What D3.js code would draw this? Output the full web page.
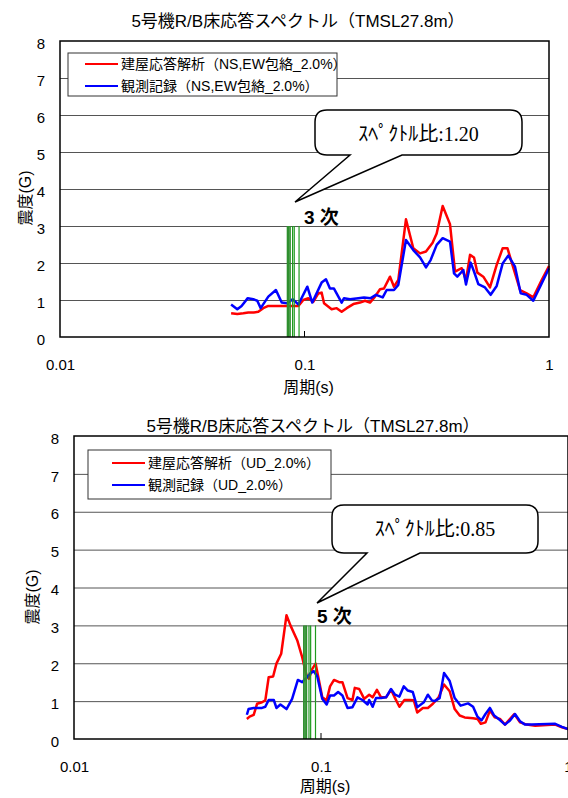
<!DOCTYPE html>
<html>
<head>
<meta charset="utf-8">
<script src="https://cdn.jsdelivr.net/npm/d3@7"></script>
<style>
body { margin: 0; background: #fff; }
svg text { font-family: "Liberation Sans", "Noto Sans CJK JP", sans-serif; fill: #000; }
</style>
</head>
<body>
<svg id="chart" width="568" height="798"></svg>
<script>
// ---- data ----
const chartTitle = '5号機R/B床応答スペクトル（TMSL27.8m）'
const xLabel = '周期(s)'
const yLabel = '震度(G)'
const xTicks = [0.01, 0.1, 1]
const yTicks = [0, 1, 2, 3, 4, 5, 6, 7, 8]

// top panel: NS,EW envelope  [period s, acceleration G]
const topAnalysis = [
  [0.0501,0.64],[0.0531,0.62],[0.0562,0.64],[0.0589,0.66],[0.0618,0.66],[0.0647,0.68],[0.0678,0.78],
  [0.0711,0.84],[0.0770,0.84],[0.0845,0.84],[0.0914,0.84],[0.0944,0.84],[0.0989,1.00],[0.1037,1.05],
  [0.1086,0.95],[0.1139,1.18],[0.1175,1.20],[0.1202,0.91],[0.1291,0.75],[0.1354,0.78],[0.1419,0.68],
  [0.1488,0.78],[0.1584,0.89],[0.1687,0.93],[0.1768,0.98],[0.1853,0.93],[0.1942,1.09],[0.2036,1.29],
  [0.2114,1.31],[0.2238,1.63],[0.2323,1.36],[0.2419,1.54],[0.2600,3.18],[0.2786,2.40],[0.2969,2.26],
  [0.3140,2.31],[0.3342,2.55],[0.3472,2.80],[0.3674,3.54],[0.3936,3.05],[0.4127,1.77],[0.4395,1.86],
  [0.4577,1.54],[0.4753,2.22],[0.4935,2.15],[0.5093,1.74],[0.5387,1.63],[0.5736,1.34],[0.6110,1.95],
  [0.6465,2.40],[0.6761,2.40],[0.7611,1.27],[0.8102,1.18],[0.8625,1.07],[0.9334,1.54],[1.0,1.92]
]
const topRecord = [
  [0.0501,0.88],[0.0531,0.75],[0.0553,0.84],[0.0586,1.05],[0.0618,1.02],[0.0641,0.98],[0.0662,0.78],
  [0.0711,1.09],[0.0764,1.27],[0.0807,0.93],[0.0851,0.91],[0.0894,1.02],[0.0944,0.88],[0.1027,1.36],
  [0.1076,0.93],[0.1175,1.47],[0.1224,1.56],[0.1271,1.31],[0.1320,1.31],[0.1419,0.93],[0.1451,1.05],
  [0.1535,1.02],[0.1660,1.05],[0.1751,1.07],[0.1865,1.05],[0.1960,1.14],[0.2089,1.07],[0.2168,1.27],
  [0.2323,1.27],[0.2419,1.41],[0.2600,2.62],[0.2786,2.35],[0.2969,2.15],[0.3140,1.88],[0.3280,2.08],
  [0.3472,2.49],[0.3674,2.67],[0.3936,2.58],[0.4088,1.72],[0.4217,1.63],[0.4463,1.81],[0.4577,1.42],
  [0.4783,2.01],[0.4935,1.77],[0.5140,1.43],[0.5472,1.34],[0.5772,1.14],[0.6110,1.38],[0.6465,1.99],
  [0.6818,2.20],[0.7261,1.90],[0.7660,1.18],[0.8102,1.14],[0.8625,0.98],[0.9334,1.45],[1.0,1.86]
]

// bottom panel: UD
const bottomAnalysis = [
  [0.0501,0.53],[0.0514,0.59],[0.0534,0.64],[0.0551,0.93],[0.0577,0.97],[0.0595,1.02],[0.0614,1.63],
  [0.0640,1.65],[0.0660,1.99],[0.0690,2.25],[0.0725,3.27],[0.0752,3.00],[0.0801,2.61],[0.0839,2.16],
  [0.0874,1.68],[0.0893,1.59],[0.0922,1.85],[0.0951,1.99],[0.0981,1.55],[0.1012,1.10],[0.1054,1.02],
  [0.1088,1.39],[0.1129,1.56],[0.1184,1.50],[0.1221,1.50],[0.1281,1.08],[0.1341,1.03],[0.1370,1.35],
  [0.1428,1.32],[0.1496,1.06],[0.1567,1.17],[0.1618,1.10],[0.1684,1.30],[0.1750,1.10],[0.1834,1.10],
  [0.1921,1.30],[0.1994,1.08],[0.2077,0.85],[0.2176,1.03],[0.2282,1.03],[0.2375,1.02],[0.2452,0.70],
  [0.2585,0.82],[0.2709,0.82],[0.2838,0.93],[0.2994,1.10],[0.3148,1.44],[0.3319,1.26],[0.3477,0.79],
  [0.3643,0.62],[0.3817,0.57],[0.4128,0.55],[0.4301,0.53],[0.4436,0.40],[0.4634,0.44],[0.4828,0.75],
  [0.5058,0.57],[0.5301,0.53],[0.5558,0.38],[0.6062,0.66],[0.6393,0.44],[0.6808,0.38],[0.7360,0.35],
  [0.8875,0.38],[0.9448,0.31],[1.0,0.26]
]
const bottomRecord = [
  [0.0501,0.64],[0.0509,0.79],[0.0534,0.82],[0.0577,0.82],[0.0595,0.85],[0.0614,1.03],[0.0644,1.03],
  [0.0660,0.82],[0.0685,0.91],[0.0725,0.79],[0.0764,1.06],[0.0806,1.56],[0.0839,1.50],[0.0874,1.62],
  [0.0908,1.74],[0.0936,1.79],[0.0966,1.65],[0.1012,1.06],[0.1054,0.91],[0.1088,1.15],[0.1129,1.15],
  [0.1173,1.24],[0.1221,1.15],[0.1281,0.82],[0.1341,0.84],[0.1405,1.10],[0.1472,1.03],[0.1544,0.91],
  [0.1567,1.03],[0.1618,0.85],[0.1669,1.08],[0.1750,1.08],[0.1834,1.10],[0.1921,1.32],[0.1994,1.17],
  [0.2077,1.12],[0.2164,1.39],[0.2246,1.28],[0.2353,1.24],[0.2452,0.84],[0.2609,0.97],[0.2709,1.17],
  [0.2812,1.02],[0.2884,1.00],[0.3022,1.08],[0.3148,1.74],[0.3319,1.53],[0.3477,1.08],[0.3677,0.88],
  [0.3940,0.94],[0.4128,0.85],[0.4301,0.59],[0.4465,0.49],[0.4634,0.66],[0.4828,0.82],[0.5025,0.62],
  [0.5301,0.50],[0.5558,0.38],[0.5824,0.49],[0.6101,0.66],[0.6393,0.47],[0.6704,0.38],[0.7136,0.38],
  [0.8875,0.40],[0.9448,0.32],[1.0,0.26]
]

// natural periods marked in green, and their bar height
const modePeriods = [0.0852, 0.0862, 0.0873, 0.0894, 0.0908, 0.0950]
const modeHeight = 3.0

const topLegend = ['建屋応答解析（NS,EW包絡_2.0%）', '観測記録（NS,EW包絡_2.0%）']
const bottomLegend = ['建屋応答解析（UD_2.0%）', '観測記録（UD_2.0%）']
const topRatio = '1.20'
const bottomRatio = '0.85'
const topMode = '3 次'
const bottomMode = '5 次'

// ---- layout ----
const svg = d3.select('#chart')

const panels = [
  {
    left: 60, right: 549, top: 41, bottom: 337,
    titleX: 298, titleY: 27, xLabelY: 393, yLabelX: 31, yLabelY: 198,
    analysis: topAnalysis, record: topRecord, legend: topLegend,
    legendBox: [68, 53, 269, 43], legendLine: [85, 118], legendText: 121, legendRows: [64, 86],
    callout: {l: 315, r: 522, t: 110, b: 155, a: 350, c: 402, tipX: 295, tipY: 202, textY: 141},
    ratio: topRatio, mode: topMode, modeX: 304, modeY: 224
  },
  {
    left: 74, right: 568, top: 436, bottom: 739,
    titleX: 313, titleY: 432, xLabelY: 792, yLabelX: 38, yLabelY: 597,
    analysis: bottomAnalysis, record: bottomRecord, legend: bottomLegend,
    legendBox: [88, 450, 243, 49], legendLine: [112, 145], legendText: 148, legendRows: [463, 485],
    callout: {l: 332, r: 538, t: 505, b: 553, a: 367, c: 420, tipX: 317, tipY: 603, textY: 536},
    ratio: bottomRatio, mode: bottomMode, modeX: 317, modeY: 623
  }
]

panels.forEach(p => drawPanel(p))

function drawPanel(p) {
  const x = d3.scaleLog().domain([0.01, 1]).range([p.left, p.right])
  const y = d3.scaleLinear().domain([0, 8]).range([p.bottom, p.top])
  const g = svg.append('g')

  // title
  g.append('text')
    .attr('x', p.titleX).attr('y', p.titleY)
    .attr('text-anchor', 'middle')
    .style('font-size', '17px')
    .text(chartTitle)

  // grid lines
  const grid = g.append('g')
    .attr('transform', 'translate(' + p.left + ',0)')
    .call(d3.axisLeft(y).tickValues(yTicks.slice(1, -1)).tickSize(-(p.right - p.left)).tickFormat(''))
  grid.select('.domain').remove()
  grid.selectAll('line').attr('stroke', '#555').attr('stroke-width', 1)

  // y tick labels
  const ya = g.append('g')
    .attr('transform', 'translate(' + p.left + ',0)')
    .call(d3.axisLeft(y).tickValues(yTicks).tickSize(0).tickPadding(15).tickFormat(d3.format('d')))
  ya.select('.domain').remove()
  ya.selectAll('text')
    .style('font-size', '15px')
    .style('font-family', '"Liberation Sans", sans-serif')
    .attr('dy', '0.48em')

  // x tick labels
  const xa = g.append('g')
    .attr('transform', 'translate(0,' + p.bottom + ')')
    .call(d3.axisBottom(x).tickValues(xTicks).tickSize(0).tickPadding(22).tickFormat(d => String(d)))
  xa.select('.domain').remove()
  xa.selectAll('text')
    .style('font-size', '15px')
    .style('font-family', '"Liberation Sans", sans-serif')

  // inner tick at 0.1
  g.append('line')
    .attr('x1', x(0.1)).attr('x2', x(0.1))
    .attr('y1', p.bottom).attr('y2', p.bottom - 6)
    .attr('stroke', '#000').attr('stroke-width', 1)

  // axis titles
  g.append('text')
    .attr('x', (p.left + p.right) / 2 + 4).attr('y', p.xLabelY)
    .attr('text-anchor', 'middle')
    .style('font-size', '16px')
    .text(xLabel)
  g.append('text')
    .attr('transform', 'translate(' + p.yLabelX + ',' + p.yLabelY + ') rotate(-90)')
    .attr('text-anchor', 'middle')
    .style('font-size', '16px')
    .text(yLabel)

  // legend
  const lb = p.legendBox
  g.append('rect')
    .attr('x', lb[0]).attr('y', lb[1]).attr('width', lb[2]).attr('height', lb[3])
    .attr('fill', '#fff').attr('stroke', '#333').attr('stroke-width', 1)
  const colors = ['#ff0000', '#0000ff']
  p.legend.forEach((label, i) => {
    g.append('line')
      .attr('x1', p.legendLine[0]).attr('x2', p.legendLine[1])
      .attr('y1', p.legendRows[i]).attr('y2', p.legendRows[i])
      .attr('stroke', colors[i]).attr('stroke-width', 2)
    g.append('text')
      .attr('x', p.legendText).attr('y', p.legendRows[i] + 5)
      .style('font-size', '14px')
      .text(label)
  })

  // curves
  const line = d3.line()
    .x(d => x(d[0]))
    .y(d => y(d[1]))
  g.append('path')
    .datum(p.analysis)
    .attr('d', line)
    .attr('fill', 'none').attr('stroke', '#ff0000').attr('stroke-width', 2.5)
    .attr('stroke-linejoin', 'round')
  g.append('path')
    .datum(p.record)
    .attr('d', line)
    .attr('fill', 'none').attr('stroke', '#0000ff').attr('stroke-width', 2.5)
    .attr('stroke-linejoin', 'round')

  // natural period markers
  g.selectAll('.mode')
    .data(modePeriods)
    .enter()
    .append('line')
    .attr('class', 'mode')
    .attr('x1', d => x(d)).attr('x2', d => x(d))
    .attr('y1', y(0)).attr('y2', y(modeHeight))
    .attr('stroke', (d, i) => i < 3 ? '#2f8f2f' : '#1f9a1f')
    .attr('stroke-width', (d, i) => i < 3 ? 1.6 : 1.2)

  // frame
  g.append('rect')
    .attr('x', p.left).attr('y', p.top)
    .attr('width', p.right - p.left).attr('height', p.bottom - p.top)
    .attr('fill', 'none').attr('stroke', '#000').attr('stroke-width', 1.5)

  // callout balloon
  const c = p.callout
  const r = 12
  const d = 'M' + (c.l + r) + ',' + c.t +
    ' H' + (c.r - r) + ' Q' + c.r + ',' + c.t + ' ' + c.r + ',' + (c.t + r) +
    ' V' + (c.b - r) + ' Q' + c.r + ',' + c.b + ' ' + (c.r - r) + ',' + c.b +
    ' H' + c.c + ' L' + c.tipX + ',' + c.tipY + ' L' + c.a + ',' + c.b +
    ' H' + (c.l + r) + ' Q' + c.l + ',' + c.b + ' ' + c.l + ',' + (c.b - r) +
    ' V' + (c.t + r) + ' Q' + c.l + ',' + c.t + ' ' + (c.l + r) + ',' + c.t + ' Z'
  g.append('path')
    .attr('d', d)
    .attr('fill', '#fff').attr('stroke', '#000').attr('stroke-width', 1.5)
  const ct = g.append('text')
    .attr('x', (c.l + c.r) / 2).attr('y', c.textY)
    .attr('text-anchor', 'middle')
    .style('font-size', '20px')
  ct.append('tspan').style('font-family', '"Noto Sans CJK JP", sans-serif').text('ｽﾍﾟｸﾄﾙ比')
  ct.append('tspan').style('font-family', '"Liberation Serif", serif').text(':' + p.ratio)

  // mode label
  g.append('text')
    .attr('x', p.modeX).attr('y', p.modeY)
    .style('font-size', '19px').style('font-weight', 'bold')
    .text(p.mode)
}
</script>
</body>
</html>
